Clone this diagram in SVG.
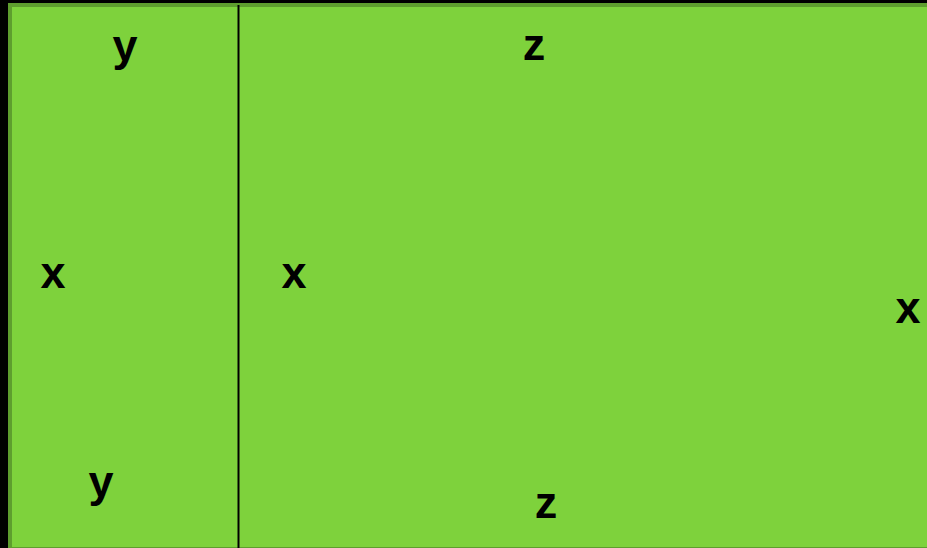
<svg xmlns="http://www.w3.org/2000/svg" width="927" height="548" viewBox="0 0 927 548">
<style>
.t{font-family:"Liberation Sans",Arial,sans-serif;font-weight:bold;font-size:45px;fill:#000;text-anchor:middle}
</style>
<rect x="0" y="0" width="927" height="548" fill="#000"/>
<g id="field">
<rect x="10" y="5" width="930" height="544" fill="#7ED23C" stroke="#5E9E2E" stroke-width="4"/>
</g>
<g id="connectors">
<line x1="238.5" y1="5" x2="238.5" y2="548" stroke="#000" stroke-width="2"/>
</g>
<g id="labels">
<text class="t" x="125" y="61">y</text>
<text class="t" x="534" y="60">z</text>
<text class="t" x="53" y="288">x</text>
<text class="t" x="294" y="288">x</text>
<text class="t" x="908" y="323">x</text>
<text class="t" x="101" y="497">y</text>
<text class="t" x="546" y="518">z</text>
</g>
</svg>
